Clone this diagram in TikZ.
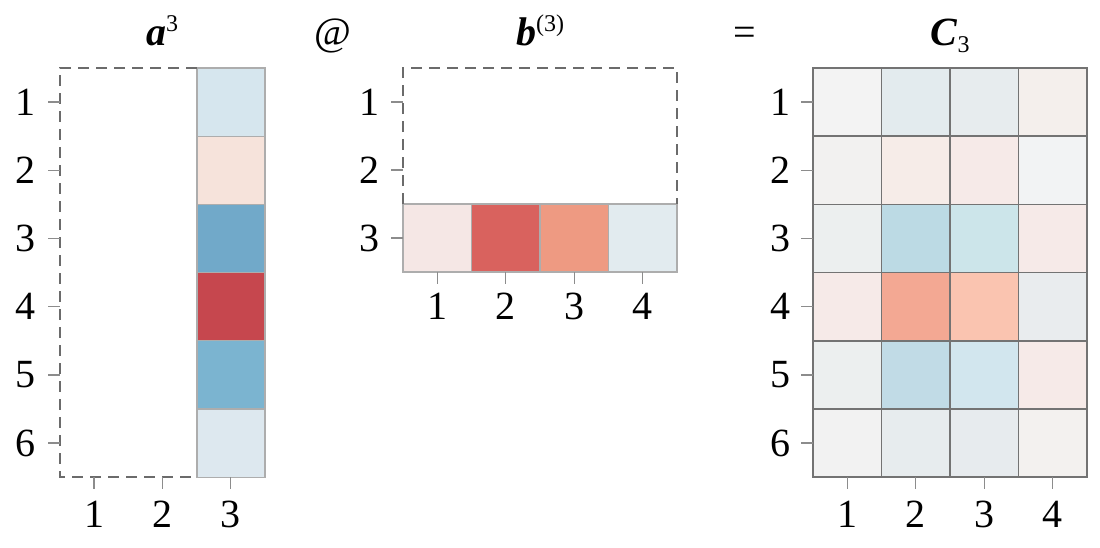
\documentclass[tikz,border=0pt]{standalone}
\usepackage{fontspec}
\setmainfont{Liberation Serif}
\begin{document}
\begin{tikzpicture}[x=1pt,y=-1pt,
  lab/.style={font=\fontsize{40}{44}\selectfont, inner sep=0pt},
  ttl/.style={font=\fontsize{40}{44}\selectfont, inner sep=0pt, anchor=base},
  tickline/.style={draw=black!45, line width=1.3pt},
  dashbox/.style={draw=black!58, line width=1.5pt, dash pattern=on 11pt off 7pt},
  cellA/.style={draw=black!32, line width=1.2pt},
  cellC/.style={draw=black!55, line width=1.7pt}]
\useasboundingbox (0,0) rectangle (1100,547);
\def\cs{68.2}
% ---------- titles ----------
\node[ttl] (ta) at (162,45) {\textbf{\textit{a}}\raisebox{14pt}{\fontsize{24}{26}\selectfont 3}};
\node[ttl] (at) at (333,45) {@};
\node[ttl] (tb) at (540,45) {\textbf{\textit{b}}\raisebox{14pt}{\fontsize{24}{26}\selectfont (3)}};
\node[ttl] (eq) at (745,45) {=};
\node[ttl] (tc) at (950,45) {\textbf{\textit{C}}\raisebox{-7pt}{\fontsize{24}{26}\selectfont 3}};
% ---------- matrix a ----------
\foreach \c [count=\i] in {D6E6EE,F6E3DB,71A9C9,C6474E,7BB4D0,DDE8EF}{
  \definecolor{tmp}{HTML}{\c}
  \fill[tmp] (197,{68+(\i-1)*\cs}) rectangle (265,{68+\i*\cs});
}
\foreach \i in {1,...,6}{
  \draw[cellA] (197,{68+(\i-1)*\cs}) rectangle (265,{68+\i*\cs});
}
\draw[dashbox] (197,68) -- (60,68) -- (60,477) -- (197,477);
\foreach \i in {1,...,6}{
  \draw[tickline] (48,{68+(\i-0.5)*\cs}) -- (60,{68+(\i-0.5)*\cs});
  \node[lab] (ar\i) at (25,{68+(\i-0.5)*\cs}) {\i};
}
\foreach \j in {1,2,3}{
  \draw[tickline] ({60+(\j-0.5)*\cs},477) -- ({60+(\j-0.5)*\cs},489);
  \node[lab] (ac\j) at ({60+(\j-0.5)*\cs},514) {\j};
}
% ---------- matrix b ----------
\foreach \c [count=\j] in {F5E7E5,D9625E,EE9A82,E2EBEF}{
  \definecolor{tmp}{HTML}{\c}
  \fill[tmp] ({403+(\j-1)*68.5},204) rectangle ({403+\j*68.5},272);
  \draw[cellA] ({403+(\j-1)*68.5},204) rectangle ({403+\j*68.5},272);
}
\draw[dashbox] (403,204) -- (403,68) -- (677,68) -- (677,204);
\foreach \i in {1,2,3}{
  \draw[tickline] (391,{68+(\i-0.5)*68}) -- (403,{68+(\i-0.5)*68});
  \node[lab] (br\i) at (369,{68+(\i-0.5)*68}) {\i};
}
\foreach \j in {1,...,4}{
  \draw[tickline] ({403+(\j-0.5)*68.5},272) -- ({403+(\j-0.5)*68.5},284);
  \node[lab] (bc\j) at ({403+(\j-0.5)*68.5},306) {\j};
}
% ---------- matrix C ----------
\foreach \r/\cols in {1/{F3F3F3,E3EBEE,E7ECEE,F4EFEC},
                      2/{F2F1F0,F6ECE8,F6EAE8,F2F3F4},
                      3/{ECEFEF,BCDAE4,CCE5EA,F6EAE8},
                      4/{F6EAE8,F3A893,FAC4B0,E9ECEE},
                      5/{ECEFEF,C1DBE6,D2E6EE,F6EAE8},
                      6/{F2F2F2,E7ECEE,E7EBEE,F3F1EF}}{
  \foreach \c [count=\j] in \cols {
    \definecolor{tmp}{HTML}{\c}
    \fill[tmp] ({813+(\j-1)*68.5},{68+(\r-1)*\cs}) rectangle ({813+\j*68.5},{68+\r*\cs});
  }
}
\foreach \r in {1,...,6}{\foreach \j in {1,...,4}{
  \draw[cellC] ({813+(\j-1)*68.5},{68+(\r-1)*\cs}) rectangle ({813+\j*68.5},{68+\r*\cs});
}}
\foreach \i in {1,...,6}{
  \draw[tickline] (801,{68+(\i-0.5)*\cs}) -- (813,{68+(\i-0.5)*\cs});
  \node[lab] (cr\i) at (780,{68+(\i-0.5)*\cs}) {\i};
}
\foreach \j in {1,...,4}{
  \draw[tickline] ({813+(\j-0.5)*68.5},477) -- ({813+(\j-0.5)*68.5},489);
  \node[lab] (cc\j) at ({813+(\j-0.5)*68.5},514) {\j};
}
\end{tikzpicture}
\end{document}
